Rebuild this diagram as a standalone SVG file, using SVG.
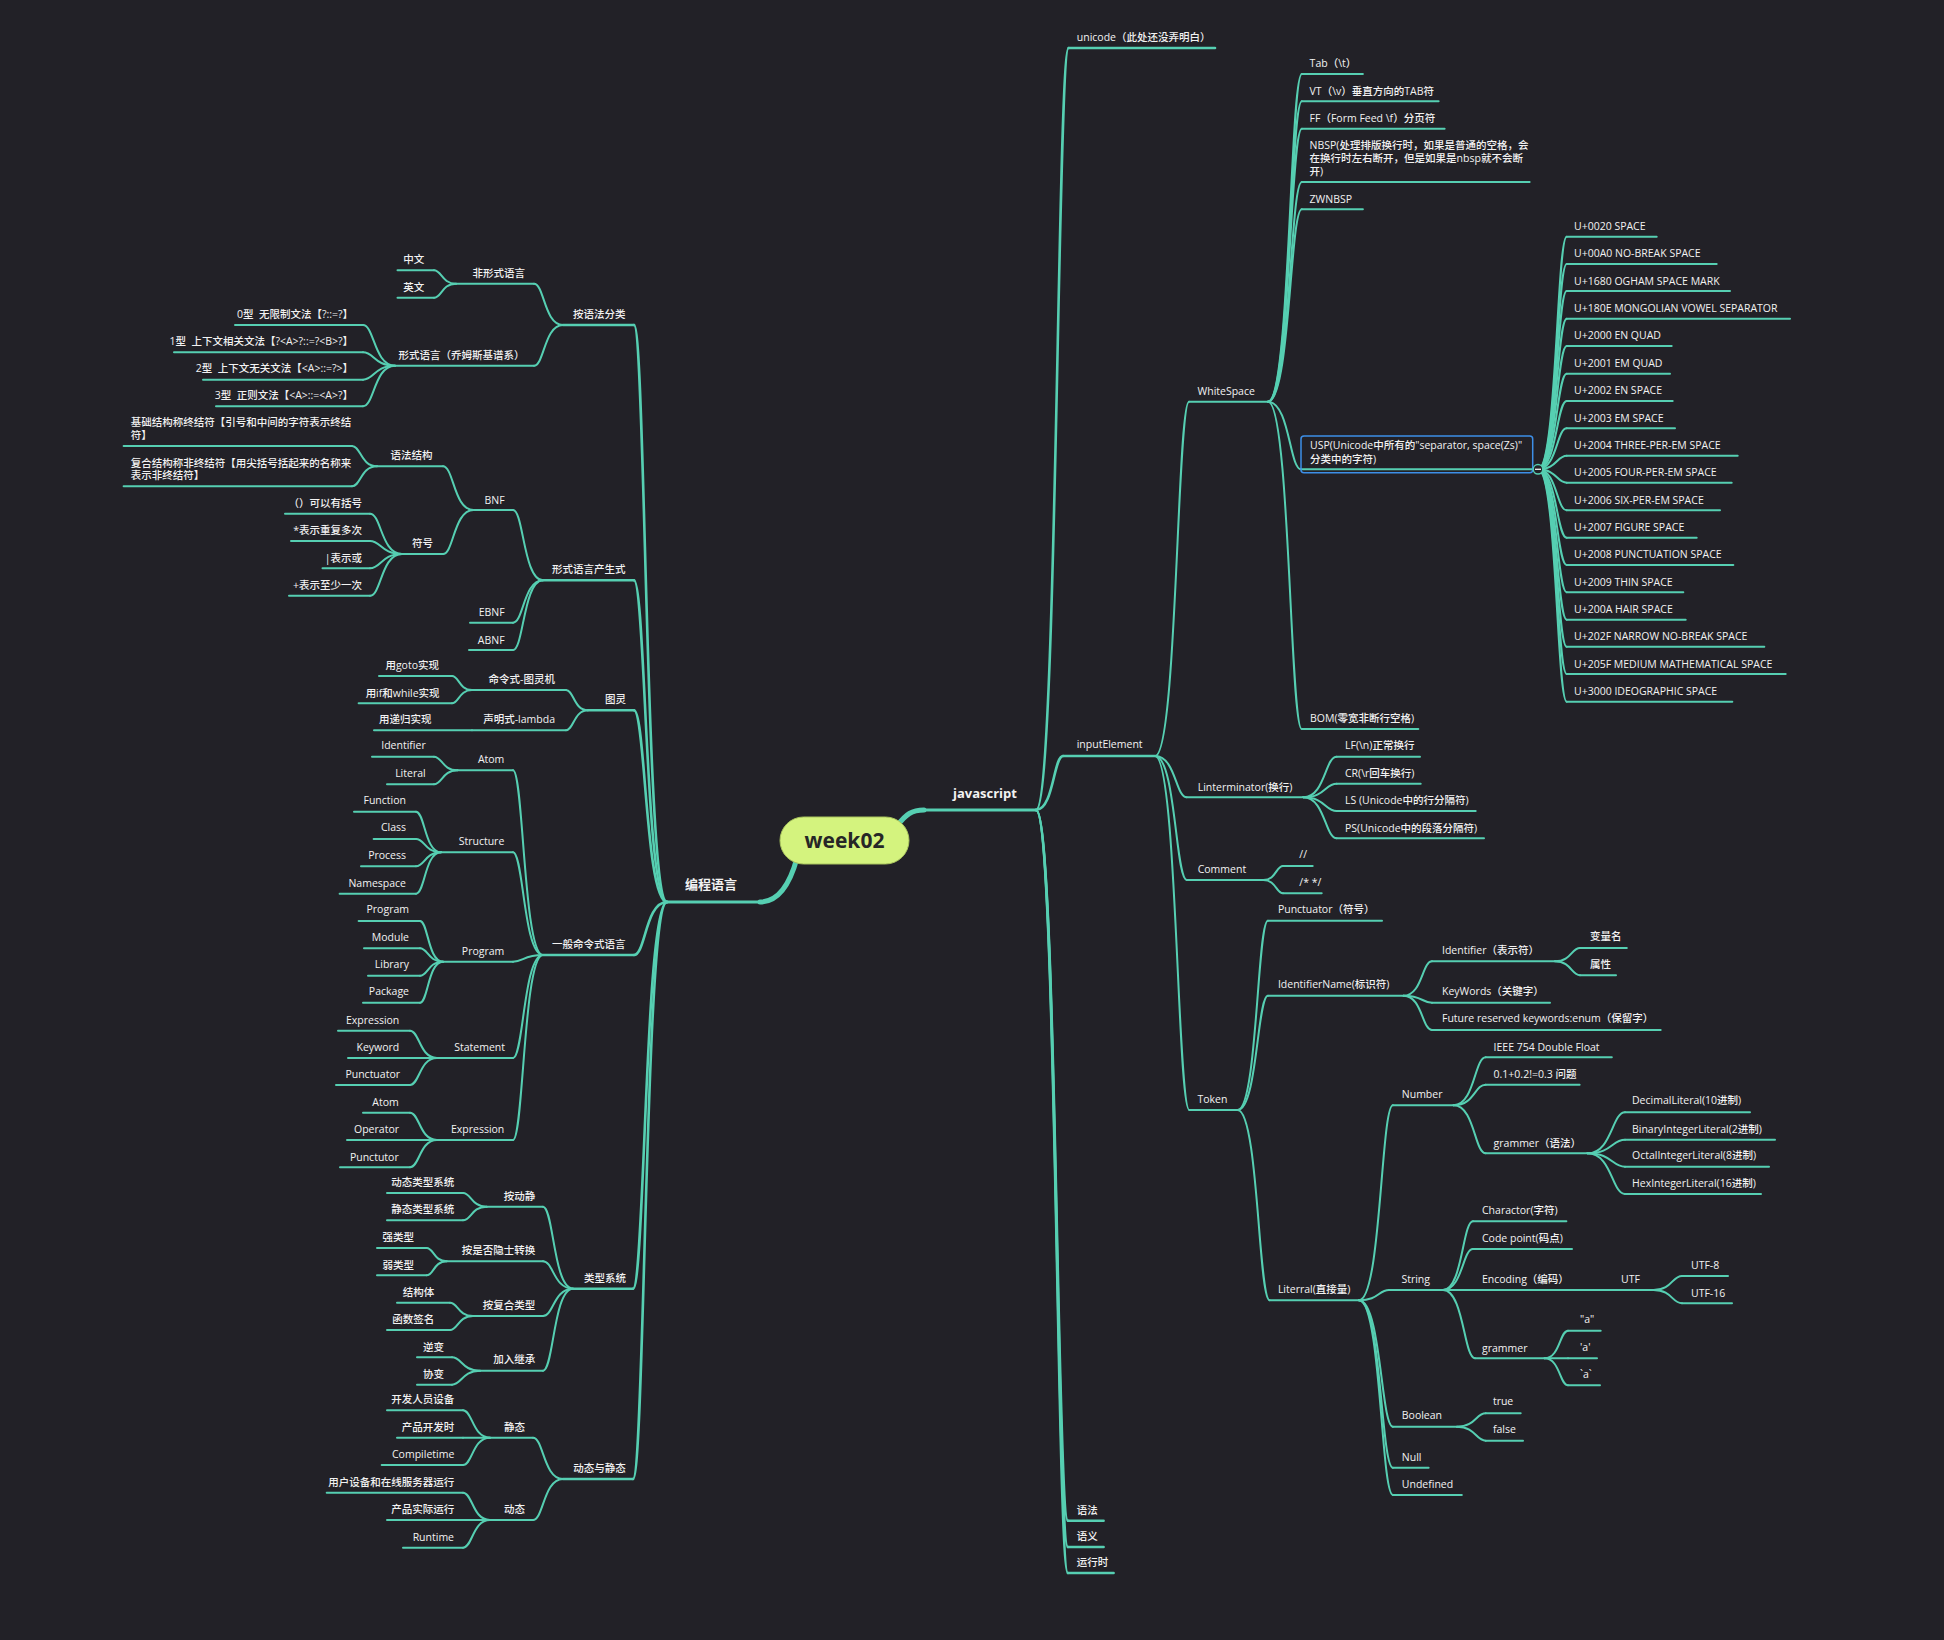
<svg xmlns="http://www.w3.org/2000/svg" width="1944" height="1640" viewBox="0 0 1944 1640">
<style>
.t{font-family:"Open Sans","Noto Sans CJK SC","Noto Sans",sans-serif;font-size:10.5px;font-weight:500;fill:#f2f2f2}
.e{text-anchor:end}
.h{font-size:13px;font-weight:700}
.u,.c{fill:none;stroke:#56cfb2;stroke-width:2;stroke-linecap:round}
.w{stroke-width:2.6}
.b{stroke-width:3.2}
.r{fill:none;stroke:#56cfb2;stroke-width:5;stroke-linecap:round}
</style>
<rect width="1944" height="1640" fill="#222127"/>
<g id="connectors">
<path class="r" d="M797 858C791 880 781 902 760 902"/>
<path class="r" d="M897 826C906 814 912 810 924 810"/>
<g class="c w">
<path d="M1036 810C1057.2 810 1057.2 48 1068.6 48"/>
<path d="M1036 810C1053.6 810 1053.6 756 1063 756"/>
<path d="M1036 810C1056.7 810 1056.7 1520.7 1067.9 1520.7"/>
<path d="M1036 810C1056.7 810 1056.7 1547 1067.9 1547"/>
<path d="M1036 810C1056.7 810 1056.7 1573 1067.9 1573"/>
<path d="M667 902C645.5 902 645.5 325 634 325"/>
<path d="M667 902C645.5 902 645.5 580.3 634 580.3"/>
<path d="M667 902C645.5 902 645.5 710.3 634 710.3"/>
<path d="M667 902C645.5 902 645.5 955 634 955"/>
<path d="M667 902C644.9 902 644.9 1288.7 633 1288.7"/>
<path d="M667 902C644.9 902 644.9 1479 633 1479"/>
</g>
<g class="c">
<path d="M1155 756C1177.1 756 1177.1 401.7 1189 401.7"/>
<path d="M1155 756C1175.6 756 1175.6 797.3 1186.7 797.3"/>
<path d="M1155 756C1175.6 756 1175.6 880 1186.7 880"/>
<path d="M1155 756C1177.3 756 1177.3 1110 1189.3 1110"/>
<path d="M1268 401.7C1290 401.7 1290 74 1301.8 74"/>
<path d="M1268 401.7C1290 401.7 1290 101.3 1301.8 101.3"/>
<path d="M1268 401.7C1290 401.7 1290 128.7 1301.8 128.7"/>
<path d="M1268 401.7C1290 401.7 1290 182 1301.8 182"/>
<path d="M1268 401.7C1290 401.7 1290 209.3 1301.8 209.3"/>
<path d="M1268 401.7C1289.5 401.7 1289.5 469.3 1301 469.3"/>
<path d="M1268 401.7C1290 401.7 1290 729 1301.7 729"/>
<path d="M1538 469.3C1556.7 469.3 1556.7 236.7 1566.7 236.7"/>
<path d="M1538 469.3C1556.7 469.3 1556.7 264 1566.7 264"/>
<path d="M1538 469.3C1556.7 469.3 1556.7 291 1566.7 291"/>
<path d="M1538 469.3C1556.7 469.3 1556.7 318.7 1566.7 318.7"/>
<path d="M1538 469.3C1556.7 469.3 1556.7 346 1566.7 346"/>
<path d="M1538 469.3C1556.7 469.3 1556.7 373.7 1566.7 373.7"/>
<path d="M1538 469.3C1556.7 469.3 1556.7 401 1566.7 401"/>
<path d="M1538 469.3C1556.7 469.3 1556.7 428.3 1566.7 428.3"/>
<path d="M1538 469.3C1556.7 469.3 1556.7 455.7 1566.7 455.7"/>
<path d="M1538 469.3C1556.7 469.3 1556.7 482.7 1566.7 482.7"/>
<path d="M1538 469.3C1556.7 469.3 1556.7 510.3 1566.7 510.3"/>
<path d="M1538 469.3C1556.7 469.3 1556.7 537.7 1566.7 537.7"/>
<path d="M1538 469.3C1556.7 469.3 1556.7 565 1566.7 565"/>
<path d="M1538 469.3C1556.7 469.3 1556.7 592.3 1566.7 592.3"/>
<path d="M1538 469.3C1556.7 469.3 1556.7 619.7 1566.7 619.7"/>
<path d="M1538 469.3C1556.7 469.3 1556.7 646.7 1566.7 646.7"/>
<path d="M1538 469.3C1556.7 469.3 1556.7 674 1566.7 674"/>
<path d="M1538 469.3C1556.7 469.3 1556.7 701.7 1566.7 701.7"/>
<path d="M1303.3 797.3C1325 797.3 1325 756.7 1336.7 756.7"/>
<path d="M1303.3 797.3C1325 797.3 1325 783.7 1336.7 783.7"/>
<path d="M1303.3 797.3C1325 797.3 1325 811 1336.7 811"/>
<path d="M1303.3 797.3C1325 797.3 1325 838.3 1336.7 838.3"/>
<path d="M1263.3 880C1276.1 880 1276.1 866 1283 866"/>
<path d="M1263.3 880C1276.1 880 1276.1 893.3 1283 893.3"/>
<path d="M1237.5 1110C1257.3 1110 1257.3 920.7 1267.9 920.7"/>
<path d="M1237.5 1110C1257.3 1110 1257.3 995.7 1267.9 995.7"/>
<path d="M1237.5 1110C1258.4 1110 1258.4 1300.3 1269.6 1300.3"/>
<path d="M1403.6 995.7C1422.1 995.7 1422.1 961.3 1432 961.3"/>
<path d="M1403.6 995.7C1422.1 995.7 1422.1 1002.7 1432 1002.7"/>
<path d="M1403.6 995.7C1422.1 995.7 1422.1 1030 1432 1030"/>
<path d="M1555 961.3C1571.3 961.3 1571.3 948 1580 948"/>
<path d="M1555 961.3C1571.3 961.3 1571.3 975.3 1580 975.3"/>
<path d="M1359 1300.3C1381 1300.3 1381 1105.3 1392.9 1105.3"/>
<path d="M1359 1300.3C1378.5 1300.3 1378.5 1290 1389 1290"/>
<path d="M1359 1300.3C1381 1300.3 1381 1426.7 1392.9 1426.7"/>
<path d="M1359 1300.3C1381 1300.3 1381 1467.7 1392.9 1467.7"/>
<path d="M1359 1300.3C1381 1300.3 1381 1495 1392.9 1495"/>
<path d="M1453.6 1105.3C1474.5 1105.3 1474.5 1057.3 1485.7 1057.3"/>
<path d="M1453.6 1105.3C1474.5 1105.3 1474.5 1084.7 1485.7 1084.7"/>
<path d="M1453.6 1105.3C1474.5 1105.3 1474.5 1153.3 1485.7 1153.3"/>
<path d="M1587.5 1153.3C1611.9 1153.3 1611.9 1112.3 1625 1112.3"/>
<path d="M1587.5 1153.3C1611.9 1153.3 1611.9 1139.7 1625 1139.7"/>
<path d="M1587.5 1153.3C1611.9 1153.3 1611.9 1166.7 1625 1166.7"/>
<path d="M1587.5 1153.3C1611.9 1153.3 1611.9 1194 1625 1194"/>
<path d="M1443 1290C1462.5 1290 1462.5 1221.3 1473 1221.3"/>
<path d="M1443 1290C1462.5 1290 1462.5 1249 1473 1249"/>
<path d="M1443 1290H1473"/>
<path d="M1443 1290C1463.8 1290 1463.8 1358.3 1475 1358.3"/>
<path d="M1653.6 1290C1672 1290 1672 1276 1682 1276"/>
<path d="M1653.6 1290C1672 1290 1672 1303.3 1682 1303.3"/>
<path d="M1544.6 1358.3C1559.8 1358.3 1559.8 1330.7 1568 1330.7"/>
<path d="M1544.6 1358.3H1568"/>
<path d="M1544.6 1358.3C1559.8 1358.3 1559.8 1385.3 1568 1385.3"/>
<path d="M1457 1426.7C1475.7 1426.7 1475.7 1413.3 1485.7 1413.3"/>
<path d="M1457 1426.7C1475.7 1426.7 1475.7 1440.7 1485.7 1440.7"/>
<path d="M563 325C544.2 325 544.2 283.7 534 283.7"/>
<path d="M563 325C544.2 325 544.2 365.7 534 365.7"/>
<path d="M456 283.7C441.7 283.7 441.7 270.3 434 270.3"/>
<path d="M456 283.7C441.7 283.7 441.7 297.7 434 297.7"/>
<path d="M395 365.7C374.2 365.7 374.2 325 363 325"/>
<path d="M395 365.7C374.2 365.7 374.2 352.3 363 352.3"/>
<path d="M395 365.7C374.2 365.7 374.2 379.7 363 379.7"/>
<path d="M395 365.7C374.2 365.7 374.2 406.3 363 406.3"/>
<path d="M543 580.3C523.5 580.3 523.5 510 513 510"/>
<path d="M543 580.3C523.5 580.3 523.5 622.7 513 622.7"/>
<path d="M543 580.3C523.5 580.3 523.5 650 513 650"/>
<path d="M473.6 510C453.7 510 453.7 466.3 443 466.3"/>
<path d="M473.6 510C453.7 510 453.7 554 443 554"/>
<path d="M377 466.3C360.8 466.3 360.8 446 352 446"/>
<path d="M377 466.3C360.8 466.3 360.8 486.3 352 486.3"/>
<path d="M402 554C381.2 554 381.2 513.7 370 513.7"/>
<path d="M402 554C381.2 554 381.2 541 370 541"/>
<path d="M402 554C381.2 554 381.2 568.3 370 568.3"/>
<path d="M402 554C381.2 554 381.2 595.7 370 595.7"/>
<path d="M588 710.3C573.7 710.3 573.7 690 566 690"/>
<path d="M588 710.3C573.7 710.3 573.7 730.3 566 730.3"/>
<path d="M472 690C459 690 459 676 452 676"/>
<path d="M472 690C459 690 459 703.3 452 703.3"/>
<path d="M543 955C523.5 955 523.5 770.3 513 770.3"/>
<path d="M543 955C523.5 955 523.5 852.3 513 852.3"/>
<path d="M543 955C523.5 955 523.5 961.7 513 961.7"/>
<path d="M543 955C523.5 955 523.5 1058 513 1058"/>
<path d="M543 955C523.5 955 523.5 1140 513 1140"/>
<path d="M457.5 770.3C442.2 770.3 442.2 756.7 434 756.7"/>
<path d="M457.5 770.3C442.2 770.3 442.2 784.3 434 784.3"/>
<path d="M441 852.3C424.8 852.3 424.8 811.7 416 811.7"/>
<path d="M441 852.3C424.8 852.3 424.8 839 416 839"/>
<path d="M441 852.3C424.8 852.3 424.8 866.3 416 866.3"/>
<path d="M441 852.3C424.8 852.3 424.8 893.7 416 893.7"/>
<path d="M443 961.7C428 961.7 428 921 420 921"/>
<path d="M443 961.7C428 961.7 428 948.3 420 948.3"/>
<path d="M443 961.7C428 961.7 428 975.7 420 975.7"/>
<path d="M443 961.7C428 961.7 428 1002.7 420 1002.7"/>
<path d="M437 1058C419.5 1058 419.5 1030.7 410 1030.7"/>
<path d="M437 1058H410"/>
<path d="M437 1058C419.5 1058 419.5 1085 410 1085"/>
<path d="M437 1140C419.5 1140 419.5 1112.7 410 1112.7"/>
<path d="M437 1140H410"/>
<path d="M437 1140C419.5 1140 419.5 1167.3 410 1167.3"/>
<path d="M573 1288.7C553.5 1288.7 553.5 1206.7 543 1206.7"/>
<path d="M573 1288.7C553.5 1288.7 553.5 1261.3 543 1261.3"/>
<path d="M573 1288.7C553.5 1288.7 553.5 1316 543 1316"/>
<path d="M573 1288.7C553.5 1288.7 553.5 1370.7 543 1370.7"/>
<path d="M486.7 1206.7C471.3 1206.7 471.3 1193 463 1193"/>
<path d="M486.7 1206.7C471.3 1206.7 471.3 1220.3 463 1220.3"/>
<path d="M446.7 1261.3C433.7 1261.3 433.7 1248 426.7 1248"/>
<path d="M446.7 1261.3C433.7 1261.3 433.7 1275.3 426.7 1275.3"/>
<path d="M473 1316C458 1316 458 1302.7 450 1302.7"/>
<path d="M473 1316C458 1316 458 1330 450 1330"/>
<path d="M480 1370.7C461.8 1370.7 461.8 1357.3 452 1357.3"/>
<path d="M480 1370.7C461.8 1370.7 461.8 1384.7 452 1384.7"/>
<path d="M563 1479C543.5 1479 543.5 1437.7 533 1437.7"/>
<path d="M563 1479C543.5 1479 543.5 1520 533 1520"/>
<path d="M490 1437.7C472.5 1437.7 472.5 1410.3 463 1410.3"/>
<path d="M490 1437.7H463"/>
<path d="M490 1437.7C472.5 1437.7 472.5 1465 463 1465"/>
<path d="M490 1520C472.5 1520 472.5 1492.7 463 1492.7"/>
<path d="M490 1520H463"/>
<path d="M490 1520C472.5 1520 472.5 1547.7 463 1547.7"/>
</g>
</g>

<g id="root"><rect x="780" y="817" width="129" height="47" rx="23.5" fill="#d4f37e" stroke="#a9c45e" stroke-width="1"/><text x="844.5" y="847.5" text-anchor="middle" font-family="'Open Sans','Noto Sans',sans-serif" font-size="21" font-weight="700" fill="#262626">week02</text></g>

<g id="n-js"><path class="u b" d="M920 810H1036"/><text class="t h" x="953" y="798">javascript</text></g>
<g id="n-lang"><path class="u b" d="M667 902H762"/><text class="t h e" x="737" y="889">编程语言</text></g>

<g id="n-syntax-cls"><path class="u w" d="M563 325H634"/><text class="t e" x="625.4" y="317.7">按语法分类</text></g>
<g id="n-informal"><path class="u" d="M456 283.7H534"/><text class="t e" x="525" y="276.7">非形式语言</text></g>
<g id="n-zh"><path class="u" d="M397.5 270.3H434"/><text class="t e" x="424.3" y="263.3">中文</text></g>
<g id="n-en"><path class="u" d="M397.5 297.7H434"/><text class="t e" x="424.3" y="290.7">英文</text></g>
<g id="n-formal"><path class="u" d="M395 365.7H534"/><text class="t e" x="524.5" y="359">形式语言（乔姆斯基谱系）</text></g>
<g id="n-type0"><path class="u" d="M235 325H363"/><text class="t e" x="353" y="317.7">0型&#160; 无限制文法【?::=?】</text></g>
<g id="n-type1"><path class="u" d="M174 352.3H363"/><text class="t e" x="353" y="345">1型&#160; 上下文相关文法【?&lt;A&gt;?::=?&lt;B&gt;?】</text></g>
<g id="n-type2"><path class="u" d="M203 379.7H363"/><text class="t e" x="353" y="372.3">2型&#160; 上下文无关文法【&lt;A&gt;::=?&gt;】</text></g>
<g id="n-type3"><path class="u" d="M216 406.3H363"/><text class="t e" x="353" y="399.3">3型&#160; 正则文法【&lt;A&gt;::=&lt;A&gt;?】</text></g>
<g id="n-prod"><path class="u w" d="M543 580.3H634"/><text class="t e" x="625.4" y="573.3">形式语言产生式</text></g>
<g id="n-bnf"><path class="u" d="M473.6 510H513"/><text class="t e" x="504.6" y="504">BNF</text></g>
<g id="n-gstruct"><path class="u" d="M377 466.3H443"/><text class="t e" x="432.5" y="459">语法结构</text></g>
<g id="n-terminal"><path class="u" d="M123.6 446H352"/><text class="t" x="130.7" y="426">基础结构称终结符【引号和中间的字符表示终结</text><text class="t" x="130.7" y="438.7">符】</text></g>
<g id="n-nonterminal"><path class="u" d="M123.6 486.3H352"/><text class="t" x="130.7" y="466.7">复合结构称非终结符【用尖括号括起来的名称来</text><text class="t" x="130.7" y="479">表示非终结符】</text></g>
<g id="n-symbol"><path class="u" d="M402 554H443"/><text class="t e" x="432.9" y="547.3">符号</text></g>
<g id="n-paren"><path class="u" d="M285 513.7H370"/><text class="t e" x="362" y="506.7">（）可以有括号</text></g>
<g id="n-star"><path class="u" d="M291 541H370"/><text class="t e" x="362" y="534">*表示重复多次</text></g>
<g id="n-or"><path class="u" d="M322.5 568.3H370"/><text class="t e" x="362" y="561.7">|表示或</text></g>
<g id="n-plus"><path class="u" d="M289 595.7H370"/><text class="t e" x="362" y="588.7">+表示至少一次</text></g>
<g id="n-ebnf"><path class="u" d="M470 622.7H513"/><text class="t e" x="504.6" y="615.7">EBNF</text></g>
<g id="n-abnf"><path class="u" d="M469 650H513"/><text class="t e" x="504.6" y="643.5">ABNF</text></g>
<g id="n-turing"><path class="u w" d="M588 710.3H634"/><text class="t e" x="626" y="703.3">图灵</text></g>
<g id="n-imperative"><path class="u" d="M472 690H566"/><text class="t e" x="555" y="682.7">命令式-图灵机</text></g>
<g id="n-goto"><path class="u" d="M379 676H452"/><text class="t e" x="439" y="669.3">用goto实现</text></g>
<g id="n-ifwhile"><path class="u" d="M358.6 703.3H452"/><text class="t e" x="439.6" y="696.7">用if和while实现</text></g>
<g id="n-declarative"><path class="u" d="M472 730.3H566"/><text class="t e" x="555" y="723.3">声明式-lambda</text></g>
<g id="n-recursion"><path class="u" d="M374 730.3H472"/><text class="t e" x="431.4" y="723.3">用递归实现</text></g>
<g id="n-general"><path class="u w" d="M543 955H634"/><text class="t e" x="625.4" y="948.3">一般命令式语言</text></g>
<g id="n-atom"><path class="u" d="M457.5 770.3H513"/><text class="t e" x="504.3" y="763.3">Atom</text></g>
<g id="n-identifier"><path class="u" d="M372 756.7H434"/><text class="t e" x="425.7" y="749.3">Identifier</text></g>
<g id="n-literal"><path class="u" d="M387 784.3H434"/><text class="t e" x="425.7" y="777.3">Literal</text></g>
<g id="n-structure"><path class="u" d="M441 852.3H513"/><text class="t e" x="504.3" y="845.3">Structure</text></g>
<g id="n-function"><path class="u" d="M354 811.7H416"/><text class="t e" x="406" y="804.3">Function</text></g>
<g id="n-class"><path class="u" d="M373.6 839H416"/><text class="t e" x="406" y="831.3">Class</text></g>
<g id="n-process"><path class="u" d="M361 866.3H416"/><text class="t e" x="406" y="859.3">Process</text></g>
<g id="n-namespace"><path class="u" d="M339.6 893.7H416"/><text class="t e" x="406" y="886.7">Namespace</text></g>
<g id="n-program"><path class="u" d="M443 961.7H513"/><text class="t e" x="504.3" y="954.7">Program</text></g>
<g id="n-program2"><path class="u" d="M358.6 921H420"/><text class="t e" x="409" y="913.3">Program</text></g>
<g id="n-module"><path class="u" d="M364 948.3H420"/><text class="t e" x="409" y="941">Module</text></g>
<g id="n-library"><path class="u" d="M368 975.7H420"/><text class="t e" x="409" y="968.3">Library</text></g>
<g id="n-package"><path class="u" d="M363 1002.7H420"/><text class="t e" x="409" y="995.3">Package</text></g>
<g id="n-statement"><path class="u" d="M437 1058H513"/><text class="t e" x="505" y="1051">Statement</text></g>
<g id="n-expression2"><path class="u" d="M338 1030.7H410"/><text class="t e" x="399.3" y="1024">Expression</text></g>
<g id="n-keyword"><path class="u" d="M348 1058H410"/><text class="t e" x="399.3" y="1051">Keyword</text></g>
<g id="n-punctuator"><path class="u" d="M336 1085H410"/><text class="t e" x="400" y="1077.7">Punctuator</text></g>
<g id="n-expression"><path class="u" d="M437 1140H513"/><text class="t e" x="504.3" y="1132.7">Expression</text></g>
<g id="n-atom2"><path class="u" d="M363 1112.7H410"/><text class="t e" x="398.7" y="1106">Atom</text></g>
<g id="n-operator"><path class="u" d="M347 1140H410"/><text class="t e" x="399" y="1132.7">Operator</text></g>
<g id="n-punctutor"><path class="u" d="M340 1167.3H410"/><text class="t e" x="398.7" y="1160.7">Punctutor</text></g>
<g id="n-typesys"><path class="u w" d="M573 1288.7H633"/><text class="t e" x="626" y="1281.7">类型系统</text></g>
<g id="n-bydyn"><path class="u" d="M486.7 1206.7H543"/><text class="t e" x="535.3" y="1200">按动静</text></g>
<g id="n-dyntype"><path class="u" d="M387 1193H463"/><text class="t e" x="454.3" y="1186">动态类型系统</text></g>
<g id="n-statictype"><path class="u" d="M387 1220.3H463"/><text class="t e" x="454.3" y="1213.3">静态类型系统</text></g>
<g id="n-implicit"><path class="u" d="M446.7 1261.3H543"/><text class="t e" x="535.3" y="1254.3">按是否隐士转换</text></g>
<g id="n-strong"><path class="u" d="M377 1248H426.7"/><text class="t e" x="414" y="1241">强类型</text></g>
<g id="n-weak"><path class="u" d="M377 1275.3H426.7"/><text class="t e" x="414" y="1269">弱类型</text></g>
<g id="n-compound"><path class="u" d="M473 1316H543"/><text class="t e" x="535.3" y="1309.3">按复合类型</text></g>
<g id="n-struct"><path class="u" d="M397 1302.7H450"/><text class="t e" x="434.3" y="1296">结构体</text></g>
<g id="n-signature"><path class="u" d="M387 1330H450"/><text class="t e" x="434.3" y="1322.7">函数签名</text></g>
<g id="n-inherit"><path class="u" d="M480 1370.7H543"/><text class="t e" x="535.3" y="1363.3">加入继承</text></g>
<g id="n-contra"><path class="u" d="M417 1357.3H452"/><text class="t e" x="444" y="1350.7">逆变</text></g>
<g id="n-co"><path class="u" d="M417 1384.7H452"/><text class="t e" x="444" y="1378">协变</text></g>
<g id="n-dynstatic"><path class="u w" d="M563 1479H633"/><text class="t e" x="625.7" y="1471.7">动态与静态</text></g>
<g id="n-static"><path class="u" d="M490 1437.7H533"/><text class="t e" x="525" y="1430.7">静态</text></g>
<g id="n-devdevice"><path class="u" d="M387 1410.3H463"/><text class="t e" x="454.3" y="1403.3">开发人员设备</text></g>
<g id="n-devtime"><path class="u" d="M397 1437.7H463"/><text class="t e" x="454.3" y="1430.7">产品开发时</text></g>
<g id="n-compiletime"><path class="u" d="M381.7 1465H463"/><text class="t e" x="454.3" y="1458.3">Compiletime</text></g>
<g id="n-dynamic"><path class="u" d="M490 1520H533"/><text class="t e" x="525" y="1513.3">动态</text></g>
<g id="n-userdevice"><path class="u" d="M326.7 1492.7H463"/><text class="t e" x="454.3" y="1486">用户设备和在线服务器运行</text></g>
<g id="n-prodrun"><path class="u" d="M387 1520H463"/><text class="t e" x="454.3" y="1513.3">产品实际运行</text></g>
<g id="n-runtime"><path class="u" d="M403 1547.7H463"/><text class="t e" x="454" y="1541">Runtime</text></g>

<g id="n-unicode"><path class="u w" d="M1068.6 48H1215"/><text class="t" x="1076.8" y="40.7">unicode（此处还没弄明白）</text></g>
<g id="n-input"><path class="u w" d="M1063 756H1155"/><text class="t" x="1076.7" y="748.3">inputElement</text></g>
<g id="n-whitespace"><path class="u" d="M1189 401.7H1268"/><text class="t" x="1197.5" y="395">WhiteSpace</text></g>
<g id="n-tab"><path class="u" d="M1301.8 74H1362.9"/><text class="t" x="1309.6" y="66.7">Tab（\t）</text></g>
<g id="n-vt"><path class="u" d="M1301.8 101.3H1438.6"/><text class="t" x="1309.6" y="94.7">VT（\v）垂直方向的TAB符</text></g>
<g id="n-ff"><path class="u" d="M1301.8 128.7H1444.6"/><text class="t" x="1309.6" y="121.7">FF（Form Feed \f）分页符</text></g>
<g id="n-nbsp"><path class="u" d="M1301.8 182H1529.6"/><text class="t" x="1309.6" y="148.7">NBSP(处理排版换行时，如果是普通的空格，会</text><text class="t" x="1309.6" y="161.7">在换行时左右断开，但是如果是nbsp就不会断</text><text class="t" x="1309.6" y="174.7">开)</text></g>
<g id="n-zwnbsp"><path class="u" d="M1301.8 209.3H1362.9"/><text class="t" x="1309.6" y="202.7">ZWNBSP</text></g>
<g id="n-usp"><path class="u" d="M1301 469.3H1538"/><rect x="1301" y="436" width="231.7" height="36.7" rx="3" fill="none" stroke="#3d8fe8" stroke-width="1.5"/><text class="t" x="1310" y="449.3">USP(Unicode中所有的"separator, space(Zs)"</text><text class="t" x="1310" y="462.7">分类中的字符)</text><circle cx="1538" cy="469.3" r="4.8" fill="#222127" stroke="#56cfb2" stroke-width="1.5"/><path d="M1535 469.3H1541" stroke="#f2f2f2" stroke-width="1.3"/></g>
<g id="n-bom"><path class="u" d="M1301.7 729H1418.3"/><text class="t" x="1310" y="721.7">BOM(零宽非断行空格)</text></g>
<g id="n-u0020"><path class="u" d="M1566.7 236.7H1656.7"/><text class="t" x="1574" y="230">U+0020 SPACE</text></g>
<g id="n-u00a0"><path class="u" d="M1566.7 264H1716.7"/><text class="t" x="1574" y="256.7">U+00A0 NO-BREAK SPACE</text></g>
<g id="n-u1680"><path class="u" d="M1566.7 291H1730"/><text class="t" x="1574" y="285">U+1680 OGHAM SPACE MARK</text></g>
<g id="n-u180e"><path class="u" d="M1566.7 318.7H1790"/><text class="t" x="1574" y="312">U+180E MONGOLIAN VOWEL SEPARATOR</text></g>
<g id="n-u2000"><path class="u" d="M1566.7 346H1671.7"/><text class="t" x="1574" y="339">U+2000 EN QUAD</text></g>
<g id="n-u2001"><path class="u" d="M1566.7 373.7H1670"/><text class="t" x="1574" y="366.7">U+2001 EM QUAD</text></g>
<g id="n-u2002"><path class="u" d="M1566.7 401H1672.7"/><text class="t" x="1574" y="394">U+2002 EN SPACE</text></g>
<g id="n-u2003"><path class="u" d="M1566.7 428.3H1675"/><text class="t" x="1574" y="421.7">U+2003 EM SPACE</text></g>
<g id="n-u2004"><path class="u" d="M1566.7 455.7H1737.7"/><text class="t" x="1574" y="448.7">U+2004 THREE-PER-EM SPACE</text></g>
<g id="n-u2005"><path class="u" d="M1566.7 482.7H1731.7"/><text class="t" x="1574" y="476">U+2005 FOUR-PER-EM SPACE</text></g>
<g id="n-u2006"><path class="u" d="M1566.7 510.3H1720"/><text class="t" x="1574" y="504">U+2006 SIX-PER-EM SPACE</text></g>
<g id="n-u2007"><path class="u" d="M1566.7 537.7H1696.7"/><text class="t" x="1574" y="531">U+2007 FIGURE SPACE</text></g>
<g id="n-u2008"><path class="u" d="M1566.7 565H1733.3"/><text class="t" x="1574" y="558">U+2008 PUNCTUATION SPACE</text></g>
<g id="n-u2009"><path class="u" d="M1566.7 592.3H1683.3"/><text class="t" x="1574" y="585.7">U+2009 THIN SPACE</text></g>
<g id="n-u200a"><path class="u" d="M1566.7 619.7H1685.7"/><text class="t" x="1574" y="612.7">U+200A HAIR SPACE</text></g>
<g id="n-u202f"><path class="u" d="M1566.7 646.7H1764.3"/><text class="t" x="1574" y="640">U+202F NARROW NO-BREAK SPACE</text></g>
<g id="n-u205f"><path class="u" d="M1566.7 674H1785.7"/><text class="t" x="1574" y="667.7">U+205F MEDIUM MATHEMATICAL SPACE</text></g>
<g id="n-u3000"><path class="u" d="M1566.7 701.7H1732.3"/><text class="t" x="1574" y="695">U+3000 IDEOGRAPHIC SPACE</text></g>
<g id="n-lineterm"><path class="u" d="M1186.7 797.3H1303.3"/><text class="t" x="1197.7" y="790.7">Linterminator(换行)</text></g>
<g id="n-lf"><path class="u" d="M1336.7 756.7H1420"/><text class="t" x="1345" y="749.3">LF(\n)正常换行</text></g>
<g id="n-cr"><path class="u" d="M1336.7 783.7H1420.7"/><text class="t" x="1345" y="776.7">CR(\r回车换行)</text></g>
<g id="n-ls"><path class="u" d="M1336.7 811H1475.7"/><text class="t" x="1345" y="804.3">LS (Unicode中的行分隔符)</text></g>
<g id="n-ps"><path class="u" d="M1336.7 838.3H1484"/><text class="t" x="1345" y="832">PS(Unicode中的段落分隔符)</text></g>
<g id="n-comment"><path class="u" d="M1186.7 880H1263.3"/><text class="t" x="1197.7" y="872.7">Comment</text></g>
<g id="n-slash"><path class="u" d="M1283 866H1312.7"/><text class="t" x="1299.3" y="858.3">//</text></g>
<g id="n-block"><path class="u" d="M1283 893.3H1321.7"/><text class="t" x="1299.3" y="886">/* */</text></g>
<g id="n-token"><path class="u" d="M1189.3 1110H1237.5"/><text class="t" x="1197.5" y="1103.3">Token</text></g>
<g id="n-punct"><path class="u" d="M1267.9 920.7H1382"/><text class="t" x="1277.9" y="913.3">Punctuator（符号）</text></g>
<g id="n-idname"><path class="u" d="M1267.9 995.7H1403.6"/><text class="t" x="1277.9" y="988.3">IdentifierName(标识符)</text></g>
<g id="n-ident"><path class="u" d="M1432 961.3H1555"/><text class="t" x="1442" y="954.3">Identifier（表示符）</text></g>
<g id="n-varname"><path class="u" d="M1580 948H1626.8"/><text class="t" x="1590" y="940.3">变量名</text></g>
<g id="n-prop"><path class="u" d="M1580 975.3H1616"/><text class="t" x="1590" y="968.3">属性</text></g>
<g id="n-keywords"><path class="u" d="M1432 1002.7H1550"/><text class="t" x="1442" y="995.3">KeyWords（关键字）</text></g>
<g id="n-future"><path class="u" d="M1432 1030H1660.7"/><text class="t" x="1442" y="1022.3">Future reserved keywords:enum（保留字）</text></g>
<g id="n-literral"><path class="u" d="M1269.6 1300.3H1359"/><text class="t" x="1277.9" y="1293.3">Literral(直接量)</text></g>
<g id="n-number"><path class="u" d="M1392.9 1105.3H1453.6"/><text class="t" x="1401.8" y="1098.3">Number</text></g>
<g id="n-ieee"><path class="u" d="M1485.7 1057.3H1611.8"/><text class="t" x="1493.6" y="1050.7">IEEE 754 Double Float</text></g>
<g id="n-float"><path class="u" d="M1485.7 1084.7H1579.6"/><text class="t" x="1493.6" y="1077.7">0.1+0.2!=0.3 问题</text></g>
<g id="n-numgrammar"><path class="u" d="M1485.7 1153.3H1587.5"/><text class="t" x="1493.6" y="1146.7">grammer（语法）</text></g>
<g id="n-decimal"><path class="u" d="M1625 1112.3H1750"/><text class="t" x="1632" y="1104.3">DecimalLiteral(10进制)</text></g>
<g id="n-binary"><path class="u" d="M1625 1139.7H1775"/><text class="t" x="1632" y="1132.7">BinaryIntegerLiteral(2进制)</text></g>
<g id="n-octal"><path class="u" d="M1625 1166.7H1769"/><text class="t" x="1632" y="1159.3">OctalIntegerLiteral(8进制)</text></g>
<g id="n-hex"><path class="u" d="M1625 1194H1761"/><text class="t" x="1632" y="1187.3">HexIntegerLiteral(16进制)</text></g>
<g id="n-string"><path class="u" d="M1389 1290H1443"/><text class="t" x="1401.4" y="1282.7">String</text></g>
<g id="n-charactor"><path class="u" d="M1473 1221.3H1566.4"/><text class="t" x="1482" y="1214.3">Charactor(字符)</text></g>
<g id="n-codepoint"><path class="u" d="M1473 1249H1572"/><text class="t" x="1482" y="1241.7">Code point(码点)</text></g>
<g id="n-encoding"><path class="u" d="M1473 1290H1610"/><text class="t" x="1482" y="1282.7">Encoding（编码）</text></g>
<g id="n-utf"><path class="u" d="M1610 1290H1653.6"/><text class="t" x="1621" y="1282.7">UTF</text></g>
<g id="n-utf8"><path class="u" d="M1682 1276H1728"/><text class="t" x="1691" y="1269.3">UTF-8</text></g>
<g id="n-utf16"><path class="u" d="M1682 1303.3H1732"/><text class="t" x="1691" y="1296.7">UTF-16</text></g>
<g id="n-strgrammar"><path class="u" d="M1475 1358.3H1544.6"/><text class="t" x="1482" y="1351.7">grammer</text></g>
<g id="n-dq"><path class="u" d="M1568 1330.7H1600.7"/><text class="t" x="1580" y="1323.3">"a"</text></g>
<g id="n-sq"><path class="u" d="M1568 1358.3H1597"/><text class="t" x="1580" y="1350.7">'a'</text></g>
<g id="n-bq"><path class="u" d="M1568 1385.3H1600"/><text class="t" x="1580" y="1377.7">`a`</text></g>
<g id="n-boolean"><path class="u" d="M1392.9 1426.7H1457"/><text class="t" x="1401.8" y="1419.3">Boolean</text></g>
<g id="n-true"><path class="u" d="M1485.7 1413.3H1520.7"/><text class="t" x="1492.9" y="1405.3">true</text></g>
<g id="n-false"><path class="u" d="M1485.7 1440.7H1523"/><text class="t" x="1492.9" y="1433.3">false</text></g>
<g id="n-null"><path class="u" d="M1392.9 1467.7H1428.6"/><text class="t" x="1401.8" y="1460.7">Null</text></g>
<g id="n-undefined"><path class="u" d="M1392.9 1495H1461.8"/><text class="t" x="1401.8" y="1487.7">Undefined</text></g>
<g id="n-grammar"><path class="u w" d="M1067.9 1520.7H1103.6"/><text class="t" x="1076.8" y="1513.7">语法</text></g>
<g id="n-semantic"><path class="u w" d="M1067.9 1547H1103.6"/><text class="t" x="1076.8" y="1539.7">语义</text></g>
<g id="n-runtime-js"><path class="u w" d="M1067.9 1573H1113.6"/><text class="t" x="1076.8" y="1565.7">运行时</text></g>
</svg>
